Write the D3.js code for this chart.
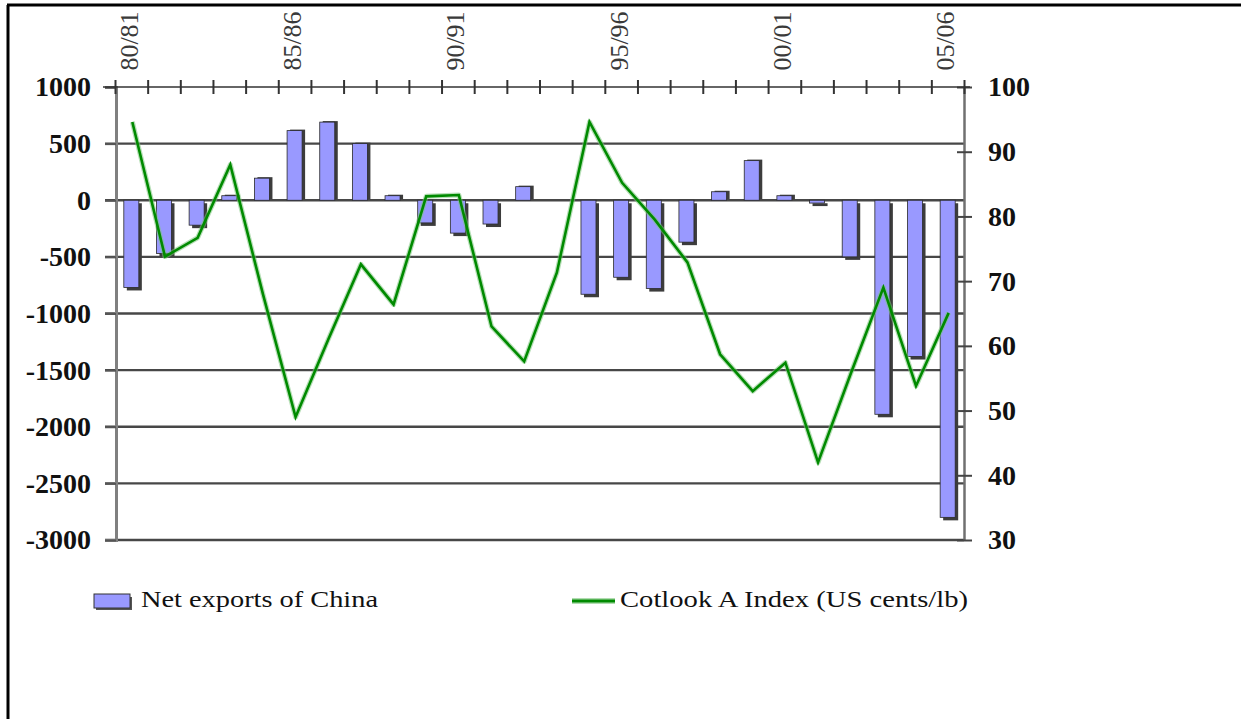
<!DOCTYPE html>
<html>
<head>
<meta charset="utf-8">
<script src="https://cdn.jsdelivr.net/npm/d3@7"></script>
<style>
  html, body { margin: 0; padding: 0; background: #ffffff; }
  svg { display: block; }
  text { font-family: "Liberation Serif", "DejaVu Serif", serif; }
</style>
</head>
<body>
<svg id="chart" width="1241" height="719"></svg>
<script>
// Marketing seasons (Aug/Jul years)
const seasons = ["80/81","81/82","82/83","83/84","84/85","85/86","86/87","87/88","88/89","89/90",
                 "90/91","91/92","92/93","93/94","94/95","95/96","96/97","97/98","98/99","99/00",
                 "00/01","01/02","02/03","03/04","04/05","05/06"];

// Net cotton exports of China (thousand tonnes), left axis
const netExports = [-770, -470, -220, 40, 195, 615, 690, 500, 40, -200,
                    -290, -210, 120, 0, -830, -680, -780, -370, 75, 350,
                    40, -25, -500, -1890, -1380, -2800];

// Cotlook A Index (US cents/lb), right axis
const cotlookA = [94.6, 73.8, 76.7, 88.0, 68.0, 49.0, 61.0, 72.6, 66.4, 83.1,
                  83.3, 63.0, 57.6, 71.3, 94.6, 85.2, 79.5, 72.9, 58.7, 53.0,
                  57.4, 42.0, 55.7, 69.0, 53.8, 65.1];

// Axis tick labels
const seasonLabels = ["80/81","85/86","90/91","95/96","00/01","05/06"];
const leftTicks = [1000, 500, 0, -500, -1000, -1500, -2000, -2500, -3000];
const rightTicks = [100, 90, 80, 70, 60, 50, 40, 30];

const seriesNames = ["Net exports of China", "Cotlook A Index (US cents/lb)"];

const svg = d3.select("#chart");

// Plot frame
const plotLeft = 115, plotRight = 964, plotTop = 87, plotBottom = 540;

const x = d3.scaleBand().domain(seasons).range([plotLeft, plotRight])
  .paddingInner(0.54).paddingOuter(0.27);
const xEdge = d3.scaleLinear().domain([0, seasons.length]).range([plotLeft, plotRight]);
const yL = d3.scaleLinear().domain([-3000, 1000]).range([plotBottom, plotTop]);
const yR = d3.scaleLinear().domain([30, 100]).range([plotBottom, plotTop]);

// Page border
svg.append("line").attr("x1", 7).attr("x2", 1241).attr("y1", 5).attr("y2", 5)
  .attr("stroke", "#000").attr("stroke-width", 3);
svg.append("line").attr("x1", 8).attr("x2", 8).attr("y1", 5).attr("y2", 719)
  .attr("stroke", "#000").attr("stroke-width", 3);

// Horizontal gridlines (left axis values below the top)
svg.append("g").selectAll("line")
  .data(leftTicks.filter(d => d < 1000))
  .join("line")
  .attr("x1", plotLeft - 10).attr("x2", plotRight)
  .attr("y1", d => yL(d)).attr("y2", d => yL(d))
  .attr("stroke", "#474747").attr("stroke-width", 2.4);

// Left axis
const gL = svg.append("g").attr("transform", `translate(${plotLeft + 1},0)`)
  .call(d3.axisLeft(yL).tickValues(leftTicks).tickSize(11).tickPadding(14)
    .tickFormat(d => String(d)));
gL.select(".domain").attr("stroke", "#808080").attr("stroke-width", 3);
gL.selectAll(".tick line").attr("stroke", "#555").attr("stroke-width", 2);
gL.selectAll(".tick text")
  .attr("font-family", "Liberation Serif").attr("font-size", 28).attr("font-weight", "bold")
  .attr("fill", "#111");

// Right axis
const gR = svg.append("g").attr("transform", `translate(${plotRight},0)`)
  .call(d3.axisRight(yR).tickValues(rightTicks).tickSizeInner(8).tickSizeOuter(0).tickPadding(16)
    .tickFormat(d => String(d)));
gR.select(".domain").attr("stroke", "#707070").attr("stroke-width", 2.5);
gR.selectAll(".tick line").attr("stroke", "#444").attr("stroke-width", 2)
  .attr("x1", -7);
gR.selectAll(".tick text")
  .attr("font-family", "Liberation Serif").attr("font-size", 28).attr("font-weight", "bold")
  .attr("fill", "#111");

// Category axis along the top, ticks at season boundaries
const gT = svg.append("g").attr("transform", `translate(0,${plotTop})`)
  .call(d3.axisTop(xEdge).tickValues(d3.range(seasons.length + 1)).tickSize(0).tickFormat(""));
gT.select(".domain").remove();
gT.append("line").attr("x1", plotLeft - 12).attr("x2", plotRight + 6)
  .attr("stroke", "#333").attr("stroke-width", 1.6);
gT.selectAll(".tick").append("line")
  .attr("y1", -7).attr("y2", 7)
  .attr("stroke", "#333").attr("stroke-width", 2);

// Season labels, rotated
svg.append("g").selectAll("text")
  .data(seasonLabels)
  .join("text")
  .attr("transform", d => `translate(${x(d) + x.bandwidth() / 2 - 2},41) rotate(-90)`)
  .attr("text-anchor", "middle").attr("dy", "0.33em")
  .attr("font-size", 26).attr("fill", "#3a3a3a")
  .text(d => d);

// Bars with drop shadow
const barData = seasons.map((s, i) => ({ season: s, value: netExports[i] }));
const bars = svg.append("g");
bars.selectAll("rect.shadow")
  .data(barData.filter(d => d.value !== 0))
  .join("rect").attr("class", "shadow")
  .attr("x", d => x(d.season) + 3)
  .attr("y", d => Math.min(yL(d.value), yL(0)) + (d.value < 0 ? 3 : -1))
  .attr("width", x.bandwidth())
  .attr("height", d => Math.abs(yL(d.value) - yL(0)))
  .attr("fill", "#3c3c3c");
bars.selectAll("rect.bar")
  .data(barData.filter(d => d.value !== 0))
  .join("rect").attr("class", "bar")
  .attr("x", d => x(d.season))
  .attr("y", d => Math.min(yL(d.value), yL(0)))
  .attr("width", x.bandwidth())
  .attr("height", d => Math.abs(yL(d.value) - yL(0)))
  .attr("fill", "#9999ff").attr("stroke", "#2a2a2a").attr("stroke-width", 0.8);

// Cotlook A Index line
const lineData = seasons.map((s, i) => ({ season: s, value: cotlookA[i] }));
const line = d3.line()
  .x(d => x(d.season) + x.bandwidth() / 2 + 1)
  .y(d => yR(d.value));
svg.append("path").datum(lineData)
  .attr("d", line).attr("fill", "none")
  .attr("stroke", "#7cc47c").attr("stroke-width", 5).attr("stroke-opacity", 0.55)
  .attr("stroke-linejoin", "round");
svg.append("path").datum(lineData)
  .attr("d", line).attr("fill", "none")
  .attr("stroke", "#008a00").attr("stroke-width", 2.6)
  .attr("stroke-linejoin", "miter");

// Legend
const lg = svg.append("g");
lg.append("rect").attr("x", 96).attr("y", 597).attr("width", 36).attr("height", 13).attr("fill", "#555");
lg.append("rect").attr("x", 94).attr("y", 594).attr("width", 36).attr("height", 14)
  .attr("fill", "#9999ff").attr("stroke", "#333").attr("stroke-width", 1);
lg.append("text").attr("x", 141).attr("y", 607)
  .attr("font-size", 24).attr("fill", "#111")
  .attr("textLength", 237).attr("lengthAdjust", "spacingAndGlyphs")
  .text(seriesNames[0]);
lg.append("line").attr("x1", 572).attr("x2", 615).attr("y1", 601).attr("y2", 601)
  .attr("stroke", "#7cc47c").attr("stroke-width", 6).attr("stroke-opacity", 0.6);
lg.append("line").attr("x1", 572).attr("x2", 615).attr("y1", 601).attr("y2", 601)
  .attr("stroke", "#008a00").attr("stroke-width", 3);
lg.append("text").attr("x", 620).attr("y", 607)
  .attr("font-size", 24).attr("fill", "#111")
  .attr("textLength", 348).attr("lengthAdjust", "spacingAndGlyphs")
  .text(seriesNames[1]);
</script>
</body>
</html>
